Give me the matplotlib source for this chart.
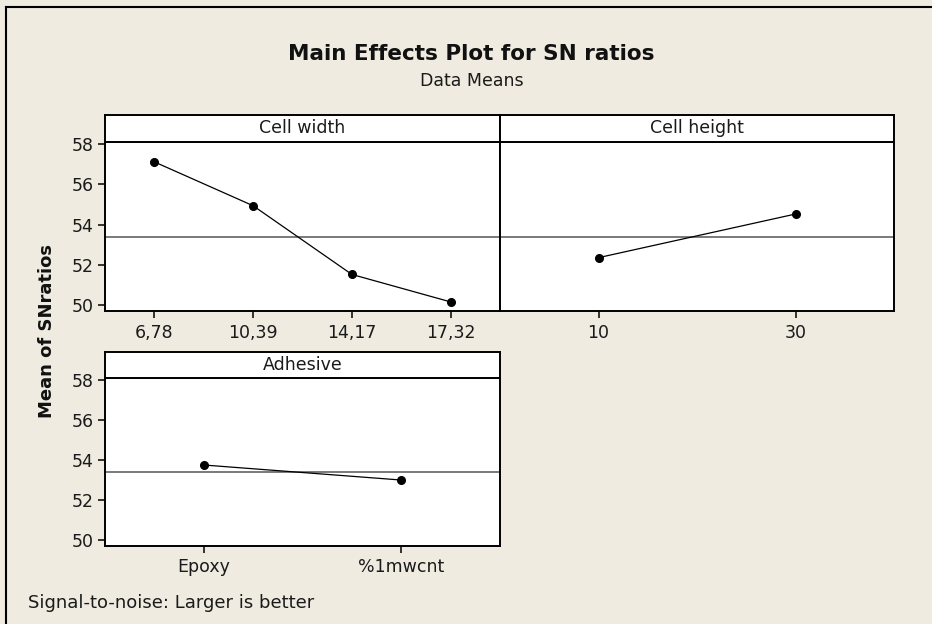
import matplotlib
matplotlib.use('Agg')
import matplotlib.pyplot as plt
from matplotlib.lines import Line2D

# -----------------------------------------------------
# Data
# -----------------------------------------------------
width_levels = ['6,78', '10,39', '14,17', '17,32']
width_sn = [57.10, 54.93, 51.53, 50.17]

height_levels = ['10', '30']
height_sn = [52.36, 54.52]

adhesive_levels = ['Epoxy', '%1mwcnt']
adhesive_sn = [53.76, 53.01]

grand_mean = 53.40
y_ticks = [50, 52, 54, 56, 58]

# -----------------------------------------------------
bg = '#EFEBE0'
plt.rcParams['font.family'] = ['DejaVu Sans']
fig = plt.figure(figsize=(9.32, 6.24), dpi=100, facecolor=bg)

W, H = 932.0, 624.0


def px_axes(x0, y0, x1, y1):
    # pixel box (top-left origin) -> figure axes
    return fig.add_axes([x0 / W, 1 - y1 / H, (x1 - x0) / W, (y1 - y0) / H])


def panel(box, head_top, title, levels, values, show_y):
    x0, y0, x1, y1 = box
    ax = px_axes(x0, y0, x1, y1)
    hd = px_axes(x0, head_top, x1, y0)
    for a in (ax, hd):
        a.set_facecolor('white')
        for s in a.spines.values():
            s.set_linewidth(1.4)
            s.set_color('black')
    hd.set_xticks([])
    hd.set_yticks([])
    hd.text(0.5, 0.5, title, ha='center', va='center', fontsize=12.5,
            color='#1a1a1a', transform=hd.transAxes)

    xs = list(range(len(levels)))
    ax.axhline(grand_mean, color='#555555', lw=1.1, zorder=1)
    ax.plot(xs, values, color='black', lw=0.9, marker='o', markersize=5.5, zorder=3)
    ax.set_xlim(-0.5, len(levels) - 0.5)
    ax.set_ylim(49.72, 58.1)
    ax.set_xticks(xs)
    ax.set_xticklabels(levels, fontsize=12.5, color='#1a1a1a')
    ax.tick_params(axis='x', length=5, width=1.1, pad=4)
    if show_y:
        ax.set_yticks(y_ticks)
        ax.set_yticklabels([str(t) for t in y_ticks], fontsize=12.5, color='#1a1a1a')
        ax.tick_params(axis='y', length=5, width=1.1, pad=3)
    else:
        ax.set_yticks([])
    return ax


panel((105, 141.7, 500, 311), 115, 'Cell width', width_levels, width_sn, True)
panel((500, 141.7, 894, 311), 115, 'Cell height', height_levels, height_sn, False)
panel((105, 378, 500, 546), 352.3, 'Adhesive', adhesive_levels, adhesive_sn, True)

# titles and labels
fig.text(471 / W, 1 - 54 / H, 'Main Effects Plot for SN ratios', ha='center', va='center',
         fontsize=15.5, fontweight='bold', color='#111111')
fig.text(472 / W, 1 - 81 / H, 'Data Means', ha='center', va='center',
         fontsize=12.5, color='#1a1a1a')
fig.text(47 / W, 1 - 331 / H, 'Mean of SNratios', ha='center', va='center', rotation=90,
         fontsize=13, fontweight='bold', color='#111111')
fig.text(28 / W, 1 - 603 / H, 'Signal-to-noise: Larger is better', ha='left', va='center',
         fontsize=13, color='#1a1a1a')

# screenshot frame (top and left edges only)
fig.add_artist(Line2D([6 / W, 6 / W], [0, 1 - 7 / H], color='black', lw=1.5))
fig.add_artist(Line2D([6 / W, 1], [1 - 7 / H, 1 - 7 / H], color='black', lw=1.5))

fig.savefig('out.png', dpi=100, facecolor=bg)
